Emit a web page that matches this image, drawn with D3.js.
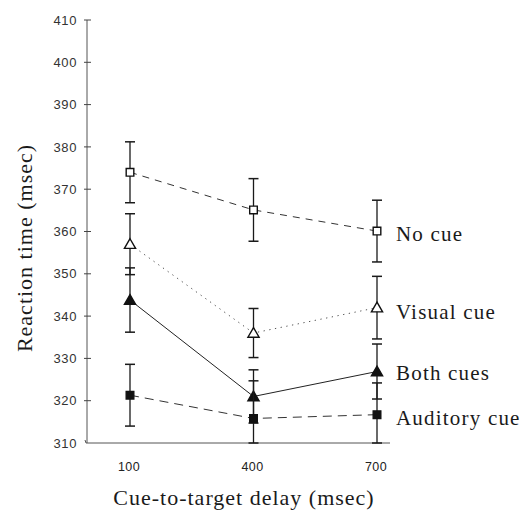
<!DOCTYPE html>
<html>
<head>
<meta charset="utf-8">
<script src="https://cdn.jsdelivr.net/npm/d3@7"></script>
<style>
  body { margin: 0; background: #fff; }
  svg { display: block; }
</style>
</head>
<body>
<div id="chart"></div>
<script>
// cue-to-target delays (msec)
const delays = [100, 400, 700];
const yTicks = [310, 320, 330, 340, 350, 360, 370, 380, 390, 400, 410];

// mean reaction times and error half-widths
const noCue = [374, 365.1, 360.1];
const noCueErr = [7.2, 7.4, 7.3];
const visualCue = [357, 336, 342];
const visualCueErr = [7.2, 5.8, 7.4];
const bothCues = [343.8, 321, 326.9];
const bothCuesErr = [7.6, 6.3, 6.5];
const auditoryCue = [321.3, 315.8, 316.7];
const auditoryCueErr = [7.3, 8.9, 7.5];

const seriesNames = ['No cue', 'Visual cue', 'Both cues', 'Auditory cue'];

const W = 526, H = 516;
const svg = d3.select('#chart').append('svg')
  .attr('width', W)
  .attr('height', H);

// set the ranges
const x = d3.scaleLinear().domain([100, 700]).range([130, 377]);
const y = d3.scaleLinear().domain([310, 410]).range([443, 20]);

const ink = '#1a1a1a';
const serif = 'Liberation Serif, Times New Roman, serif';
const sans = 'Liberation Sans, Arial, sans-serif';

// y axis line + crossing ticks
svg.append('line')
  .attr('x1', 87).attr('x2', 87)
  .attr('y1', y(410)).attr('y2', y(310))
  .attr('stroke', '#555').attr('stroke-width', 1);

svg.selectAll('.ytick')
  .data(yTicks.slice(1))
  .enter().append('line')
  .attr('x1', 84).attr('x2', 91)
  .attr('y1', (d) => y(d)).attr('y2', (d) => y(d))
  .attr('stroke', '#444').attr('stroke-width', 1);

svg.selectAll('.ylab')
  .data(yTicks)
  .enter().append('text')
  .attr('x', 77)
  .attr('y', (d) => y(d))
  .attr('dy', '0.36em')
  .attr('text-anchor', 'end')
  .style('font-family', sans)
  .style('font-size', '13px')
  .style('letter-spacing', '0.6px')
  .style('fill', '#333')
  .text((d) => d);

// x axis line
svg.append('path')
  .attr('d', `M85,${y(310) - 3}L86,${y(310)}L390,${y(310)}`)
  .attr('fill', 'none')
  .attr('stroke', '#555').attr('stroke-width', 1);

svg.selectAll('.xlab')
  .data(delays)
  .enter().append('text')
  .attr('x', (d) => x(d) - 1)
  .attr('y', 471)
  .attr('text-anchor', 'middle')
  .style('font-family', sans)
  .style('font-size', '12.5px')
  .style('letter-spacing', '0.4px')
  .style('fill', '#222')
  .text((d) => d);

// axis titles
svg.append('text')
  .attr('x', 244)
  .attr('y', 505)
  .attr('text-anchor', 'middle')
  .style('font-family', serif)
  .style('font-size', '22px')
  .style('letter-spacing', '1px')
  .style('fill', ink)
  .text('Cue-to-target delay (msec)');

svg.append('text')
  .attr('transform', 'translate(32, 248) rotate(-90)')
  .attr('text-anchor', 'middle')
  .style('font-family', serif)
  .style('font-size', '22px')
  .style('letter-spacing', '1px')
  .style('fill', ink)
  .text('Reaction time (msec)');

const series = [
  { name: seriesNames[0], vals: noCue, err: noCueErr, dash: '7,6', stroke: '#333', marker: 'square', filled: false, labelY: 234 },
  { name: seriesNames[1], vals: visualCue, err: visualCueErr, dash: '1.3,4.5', stroke: '#555', marker: 'triangle', filled: false, labelY: 312 },
  { name: seriesNames[2], vals: bothCues, err: bothCuesErr, dash: null, stroke: '#222', marker: 'triangle', filled: true, labelY: 373 },
  { name: seriesNames[3], vals: auditoryCue, err: auditoryCueErr, dash: '9,6', stroke: '#333', marker: 'square', filled: true, labelY: 418 }
];

const line = d3.line()
  .x((d) => x(d.delay))
  .y((d) => y(d.v));

series.forEach((s) => {
  const pts = delays.map((dl, i) => ({ delay: dl, v: s.vals[i], e: s.err[i] }));

  // connecting line
  svg.append('path')
    .datum(pts)
    .attr('fill', 'none')
    .attr('stroke', s.stroke)
    .attr('stroke-width', 1)
    .attr('stroke-dasharray', s.dash)
    .attr('d', line);

  // error bars, clipped at the bottom of the axis
  const g = svg.append('g');
  pts.forEach((p) => {
    const top = y(p.v + p.e);
    const bot = y(Math.max(310, p.v - p.e));
    const cx = x(p.delay);
    g.append('line')
      .attr('x1', cx).attr('x2', cx)
      .attr('y1', top).attr('y2', bot)
      .attr('stroke', ink).attr('stroke-width', 1.3);
    g.append('line')
      .attr('x1', cx - 5).attr('x2', cx + 5)
      .attr('y1', top).attr('y2', top)
      .attr('stroke', ink).attr('stroke-width', 1.5);
    g.append('line')
      .attr('x1', cx - 5).attr('x2', cx + 5)
      .attr('y1', bot).attr('y2', bot)
      .attr('stroke', ink).attr('stroke-width', 1.5);
  });

  // markers
  const sym = d3.symbol()
    .type(s.marker === 'square' ? d3.symbolSquare : d3.symbolTriangle)
    .size(s.marker === 'square' ? 58 : 54);
  svg.selectAll(null)
    .data(pts)
    .enter().append('path')
    .attr('d', sym)
    .attr('transform', (d) => `translate(${x(d.delay)}, ${y(d.v) + (s.marker === 'triangle' ? 1 : 0)})`)
    .attr('fill', s.filled ? '#111' : '#fff')
    .attr('stroke', '#111')
    .attr('stroke-width', 1.4);

  // series label at the right end
  svg.append('text')
    .attr('x', 396)
    .attr('y', s.labelY)
    .attr('dy', '0.35em')
    .style('font-family', serif)
    .style('font-size', '21px')
    .style('letter-spacing', '1.2px')
    .style('fill', ink)
    .text(s.name);
});
</script>
</body>
</html>
